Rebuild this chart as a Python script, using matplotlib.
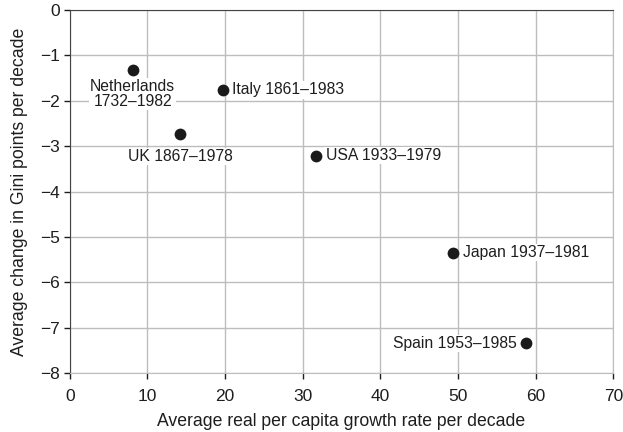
import matplotlib
matplotlib.use("Agg")
import matplotlib.pyplot as plt

# data
countries = ["Netherlands\n1732\u20131982", "Italy 1861\u20131983", "UK 1867\u20131978",
             "USA 1933\u20131979", "Japan 1937\u20131981", "Spain 1953\u20131985"]
growth = [8.1, 19.7, 14.2, 31.7, 49.35, 58.8]
gini_change = [-1.33, -1.76, -2.73, -3.21, -5.34, -7.34]
# where each label goes relative to its point, and how far (points)
placement = ["below", "right", "below", "right", "right", "left"]
offsets = [6, 7, 11, 7, 7, 7]

plt.rcParams['font.family'] = ['Liberation Sans', 'DejaVu Sans']

fig = plt.figure(figsize=(6.23, 4.32), dpi=100)
ax = fig.add_axes([69.7 / 623, 1 - 373.3 / 432, (613.3 - 69.7) / 623, (373.3 - 10) / 432])

ax.scatter(growth, gini_change, s=72, color='#1a1a1a', zorder=3, linewidths=0)

box = dict(facecolor='white', edgecolor='none', pad=0.8)
for name, x, y, where, off in zip(countries, growth, gini_change, placement, offsets):
    if where == "below":
        ax.annotate(name, (x, y), xytext=(0, -off), textcoords='offset points',
                    ha='center', va='top', fontsize=11.3, color='#1e1e1e',
                    linespacing=1.05, bbox=box)
    elif where == "right":
        ax.annotate(name, (x, y), xytext=(off, 0), textcoords='offset points',
                    ha='left', va='center', fontsize=11.3, color='#1e1e1e', bbox=box)
    else:
        ax.annotate(name, (x, y), xytext=(-off, 0), textcoords='offset points',
                    ha='right', va='center', fontsize=11.3, color='#1e1e1e', bbox=box)

ax.set_xlim(0, 70)
ax.set_ylim(-8, 0)
ax.set_xticks(range(0, 71, 10))
ax.set_yticks(range(-8, 1))
ax.grid(True, color='#bdbdbd', linewidth=1.0)
ax.set_axisbelow(True)

ax.spines['left'].set_color('#444444')
ax.spines['top'].set_color('#444444')
ax.spines['right'].set_color('#bdbdbd')
ax.spines['bottom'].set_color('#bdbdbd')
ax.tick_params(axis='both', labelsize=12.5, colors='#1e1e1e', length=4, width=1)
ax.tick_params(axis='x', pad=7)
ax.tick_params(axis='y', pad=3)

ax.set_xlabel("Average real per capita growth rate per decade", fontsize=12.7, color='#1e1e1e', labelpad=7)
ax.set_ylabel("Average change in Gini points per decade", fontsize=12.7, color='#1e1e1e', labelpad=9)

fig.savefig("out.png", dpi=100)
